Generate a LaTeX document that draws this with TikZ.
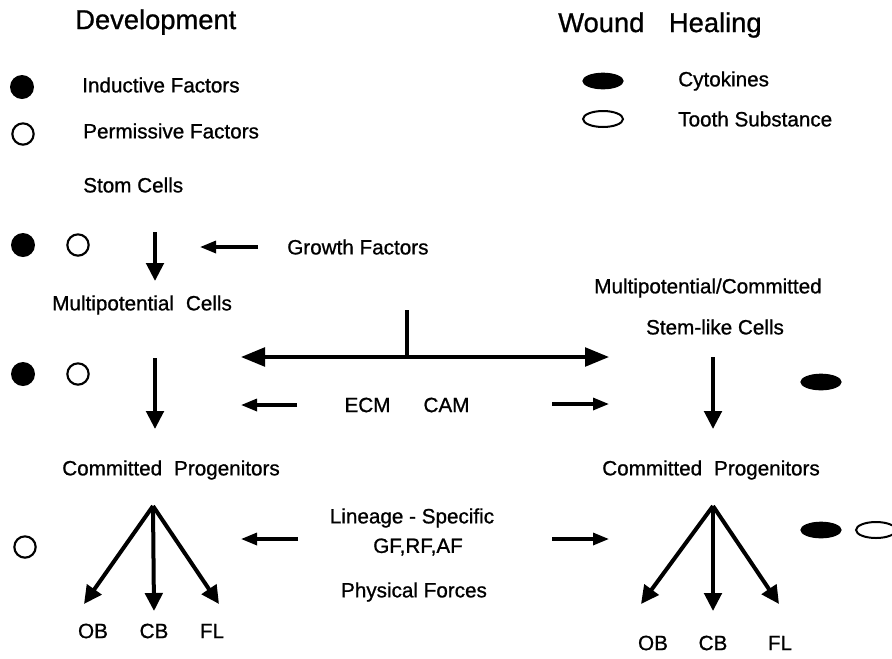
\documentclass[tikz,border=0pt]{standalone}
\usepackage{fontspec}
\setmainfont{Liberation Sans}[FakeBold=0.9]
\usetikzlibrary{arrows.meta,shapes.geometric}
\begin{document}
\begin{tikzpicture}[x=0.75pt,y=-0.75pt,
 lbl/.style={font=\fontsize{15.5}{18}\selectfont, inner sep=0pt},
 ttl/.style={font=\fontsize{20.5}{24}\selectfont, inner sep=0pt},
 arr/.style={line width=3pt, -{Triangle[length=13.5pt,width=13pt]}},
 thinarr/.style={line width=2.4pt, -{Triangle[length=12pt,width=9pt]}},
 bigarr/.style={line width=2.6pt, {Triangle[length=18pt,width=14pt]}-{Triangle[length=18pt,width=14pt]}},
 fdot/.style={circle, fill=black, minimum size=18pt, inner sep=0pt},
 odot/.style={circle, draw=black, line width=1.6pt, minimum size=16pt, inner sep=0pt},
 fell/.style={ellipse, fill=black, minimum width=31pt, minimum height=12.5pt, inner sep=0pt},
 oell/.style={ellipse, draw=black, line width=1.5pt, minimum width=30pt, minimum height=12pt, inner sep=0pt},
]
\useasboundingbox (0,0) rectangle (892,658);

% titles
\node[ttl, anchor=west] (dev) at (75,22) {Development};
\node[ttl, anchor=west] (wh) at (558,25) {Wound\hspace{0.9em}Healing};

% legend left
\node[fdot] (lf) at (22,87) {};
\node[lbl, anchor=west] (ind) at (82,85) {Inductive Factors};
\node[odot] (lo) at (23,134) {};
\node[lbl, anchor=west] (perm) at (83,131) {Permissive Factors};
\node[lbl, anchor=west] (stom) at (83,185) {Stom Cells};

% legend right
\node[fell] (rf) at (603,81) {};
\node[lbl, anchor=west] (cyt) at (678,81) {Cytokines};
\node[oell] (ro) at (603,119) {};
\node[lbl, anchor=west] (tooth) at (678,119) {Tooth Substance};

% row 2
\node[fdot] (f2) at (23,245) {};
\node[odot] (o2) at (78,245) {};
\coordinate (a1s) at (155,232);
\coordinate (a1e) at (155,281);
\draw[arr] (a1s) -- (a1e);
\coordinate (gfs) at (258,247);
\coordinate (gfe) at (200,247);
\draw[thinarr] (gfs) -- (gfe);
\node[lbl, anchor=west] (gf) at (287,247) {Growth Factors};
\node[lbl, anchor=west] (multi) at (52,305) {Multipotential\hspace{0.3em} Cells};

% T connector
\coordinate (tt) at (407,310);
\coordinate (tm) at (407,357);
\coordinate (tl) at (241,357);
\coordinate (tr) at (609,357);
\draw[line width=2.4pt] (tt) -- (tm);
\draw[bigarr] (tl) -- (tr);

% right top labels
\node[lbl] (mcomm) at (708,288) {Multipotential/Committed};
\node[lbl] (stem) at (715,327) {Stem-like Cells};

% row 3
\node[fdot] (f3) at (23,374) {};
\node[odot] (o3) at (78,374) {};
\coordinate (a2s) at (155,358);
\coordinate (a2e) at (155,429);
\draw[arr] (a2s) -- (a2e);
\coordinate (els) at (297,405);
\coordinate (ele) at (241,405);
\draw[thinarr] (els) -- (ele);
\node[lbl] (ecm) at (407,405) {ECM\hspace{1.6em}CAM};
\coordinate (ers) at (552,404);
\coordinate (ere) at (609,404);
\draw[thinarr] (ers) -- (ere);
\coordinate (a3s) at (713,357);
\coordinate (a3e) at (713,429);
\draw[arr] (a3s) -- (a3e);
\node[fell] (f3r) at (821,382) {};

% row 4 left
\node[lbl, anchor=west] (cpl) at (62,470) {Committed\hspace{0.3em} Progenitors};
\node[odot] (o4) at (25,547) {};
\coordinate (apl) at (153,506);
\coordinate (obl) at (84,604);
\coordinate (cbl) at (154,611);
\coordinate (fll) at (219,604);
\draw[arr] (apl) -- (obl);
\draw[arr] (apl) -- (cbl);
\draw[arr] (apl) -- (fll);
\node[lbl] (obtl) at (93,631) {OB};
\node[lbl] (cbtl) at (154,631) {CB};
\node[lbl] (fltl) at (212,631) {FL};

% centre texts
\node[lbl] (lin) at (412,518) {Lineage - Specific};
\node[lbl] (gfrf) at (418,547) {GF,RF,AF};
\node[lbl] (phys) at (414,592) {Physical Forces};
\coordinate (lls) at (298,539);
\coordinate (lle) at (241,539);
\draw[thinarr] (lls) -- (lle);
\coordinate (lrs) at (552,539);
\coordinate (lre) at (609,539);
\draw[thinarr] (lrs) -- (lre);

% row 4 right
\node[lbl, anchor=west] (cpr) at (602,470) {Committed\hspace{0.3em} Progenitors};
\coordinate (apr) at (713,506);
\coordinate (obr) at (641,604);
\coordinate (cbr) at (713,611);
\coordinate (flr) at (779,604);
\draw[arr] (apr) -- (obr);
\draw[arr] (apr) -- (cbr);
\draw[arr] (apr) -- (flr);
\node[lbl] (obtr) at (653,643) {OB};
\node[lbl] (cbtr) at (713,643) {CB};
\node[lbl] (fltr) at (780,643) {FL};
\node[fell] (f4r) at (821,530) {};
\node[oell] (o4r) at (876,530) {};
\end{tikzpicture}
\end{document}
